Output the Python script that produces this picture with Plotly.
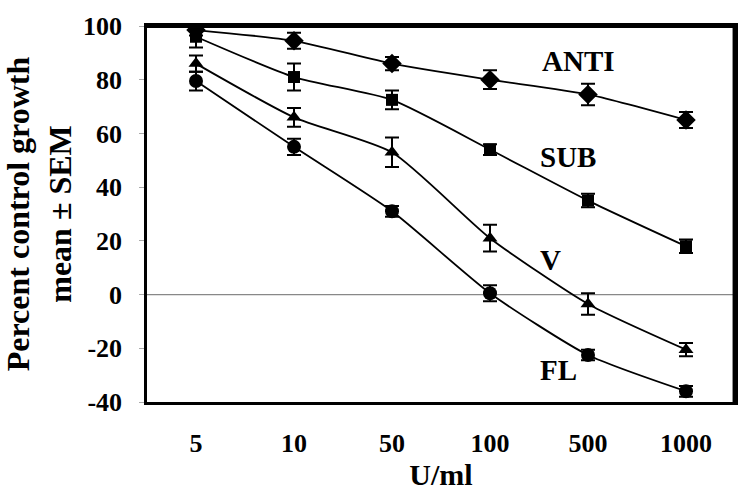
import plotly.graph_objects as go

doses = ["5", "10", "50", "100", "500", "1000"]
y_tickvals = [-40, -20, 0, 20, 40, 60, 80, 100]
y_ticktext = ["-40", "-20", "0", "20", "40", "60", "80", "100"]

anti = [98.5, 94.5, 86, 80, 74.5, 65]
anti_sem = [2, 3, 2.5, 3.5, 4, 3]
sub = [96, 81, 72.5, 54, 35, 18]
sub_sem = [4, 5, 3.5, 2, 2.5, 2.5]
v = [86, 66, 53, 21, -3.5, -20.5]
v_sem = [3, 3.5, 5.5, 5, 4, 2.5]
fl = [79.5, 55, 31, 0.5, -22.5, -36]
fl_sem = [3.5, 3, 2, 3, 2, 2]

series = [
    ("ANTI", anti, anti_sem, "diamond", 15),
    ("SUB", sub, sub_sem, "square", 12),
    ("V", v, v_sem, "triangle-up", 13),
    ("FL", fl, fl_sem, "circle", 14),
]

label_x = [3.9, 3.8, 3.62, 3.7]
label_y = [87, 51.4, 12.7, -28]

FONT = "Liberation Serif"

fig = go.Figure()
for name, ys, es, sym, sz in series:
    fig.add_trace(go.Scatter(
        x=doses, y=ys, mode="lines+markers", name=name,
        line=dict(color="black", width=1.8, shape="spline", smoothing=0.6),
        marker=dict(symbol=sym, size=sz, color="black"),
        error_y=dict(type="data", array=es, visible=True, color="black",
                     thickness=2, width=7),
        showlegend=False,
    ))

for (name, *_), lx, ly in zip(series, label_x, label_y):
    fig.add_annotation(x=lx, y=ly, text="<b>" + name + "</b>", showarrow=False,
                       font=dict(family=FONT, size=29, color="black"))

fig.add_shape(type="line", xref="paper", x0=0, x1=1, yref="y", y0=0, y1=0,
              line=dict(color="#888888", width=1.2), layer="below")
# top and right frame edges
fig.add_shape(type="line", xref="paper", yref="paper", x0=0, x1=1, y0=0.998, y1=0.998,
              line=dict(color="black", width=2.5), layer="above")
fig.add_shape(type="line", xref="paper", yref="paper", x0=0.998, x1=0.998, y0=0, y1=1,
              line=dict(color="black", width=2.5), layer="above")

fig.update_layout(
    width=750, height=498,
    margin=dict(l=147, r=15, t=22, b=96),
    plot_bgcolor="white", paper_bgcolor="white",
    font=dict(family=FONT, color="black"),
)
fig.update_xaxes(
    type="category", range=[-0.5, 5.5],
    showline=True, linecolor="black", linewidth=2.5, mirror=True,
    showgrid=False, zeroline=False, ticks="",
    ticklabelstandoff=16,
    tickfont=dict(size=26, family=FONT, weight="bold"),
    title=dict(text="<b>U/ml</b>", font=dict(size=30), standoff=4),
)
fig.update_yaxes(
    range=[-40, 100], tickvals=y_tickvals, ticktext=y_ticktext,
    showline=True, linecolor="black", linewidth=2.5, mirror=True,
    showgrid=False, zeroline=False,
    ticks="outside", ticklen=5, tickcolor="#aaaaaa",
    ticklabelstandoff=12,
    tickfont=dict(size=26, family=FONT, weight="bold"),
    title=dict(text="<b>Percent control growth<br>mean ± SEM</b>", font=dict(size=32), standoff=4),
)

fig.write_html("out.html", config={"displayModeBar": False},
               post_script="document.body.style.margin='0';document.body.style.overflow='hidden';")
